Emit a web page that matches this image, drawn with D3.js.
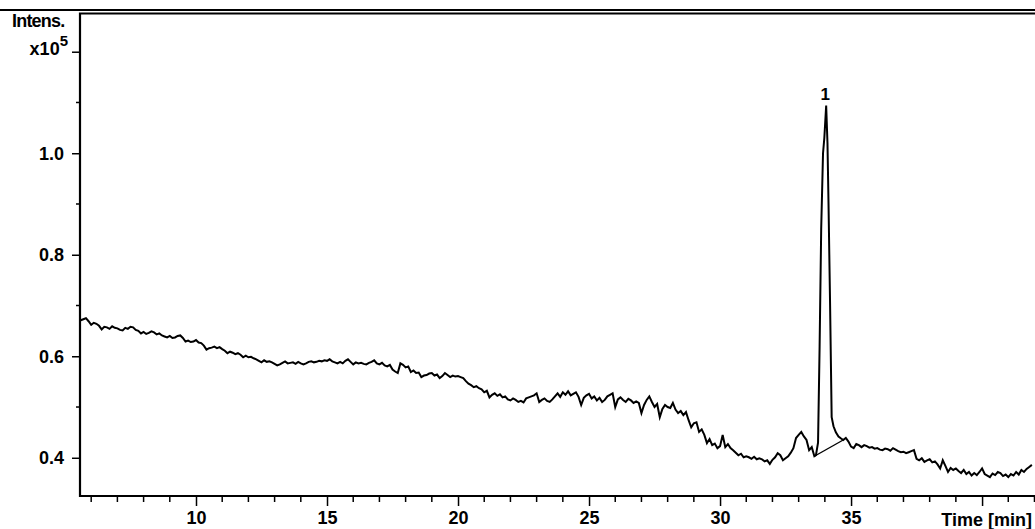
<!DOCTYPE html>
<html>
<head>
<meta charset="utf-8">
<script src="https://cdn.jsdelivr.net/npm/d3@7"></script>
<style>
  html, body { margin: 0; padding: 0; background: #fff; }
  svg { display: block; font-family: "Liberation Sans", Arial, sans-serif; font-weight: bold; }
</style>
</head>
<body>
<svg id="chart" width="1035" height="529"></svg>
<script>
'use strict';

// trace before the peak, one value every 0.1 min starting at 5.6 min (x10^5)
var traceAStart = 5.6;
var traceA = [
    0.671, 0.673, 0.675, 0.669,
    0.662, 0.666, 0.664, 0.660, 0.653, 0.658, 0.657, 0.654, 0.659, 0.656,
    0.655, 0.652, 0.651, 0.656, 0.654, 0.658, 0.657, 0.652, 0.650, 0.645,
    0.648, 0.644, 0.646, 0.649, 0.647, 0.643, 0.645, 0.641, 0.639, 0.637,
    0.640, 0.636, 0.637, 0.640, 0.641, 0.636, 0.629, 0.631, 0.628, 0.629,
    0.632, 0.627, 0.626, 0.621, 0.613, 0.616, 0.617, 0.619, 0.616, 0.618,
    0.614, 0.611, 0.606, 0.609, 0.607, 0.604, 0.606, 0.603, 0.598, 0.601,
    0.598, 0.599, 0.596, 0.594, 0.591, 0.588, 0.592, 0.589, 0.590, 0.588,
    0.585, 0.582, 0.584, 0.587, 0.590, 0.586, 0.587, 0.588, 0.585, 0.589,
    0.586, 0.584, 0.586, 0.589, 0.590, 0.588, 0.589, 0.591, 0.590, 0.592,
    0.591, 0.594, 0.590, 0.588, 0.586, 0.589, 0.586, 0.591, 0.594, 0.589,
    0.584, 0.588, 0.586, 0.587, 0.585, 0.584, 0.587, 0.589, 0.592, 0.586,
    0.584, 0.587, 0.582, 0.580, 0.583, 0.574, 0.570, 0.567, 0.586, 0.583,
    0.578, 0.580, 0.569, 0.572, 0.567, 0.568, 0.559, 0.562, 0.563, 0.566,
    0.567, 0.562, 0.564, 0.557, 0.561, 0.567, 0.563, 0.559, 0.562, 0.560,
    0.561, 0.559, 0.557, 0.551, 0.546, 0.543, 0.539, 0.541, 0.537, 0.535,
    0.529, 0.532, 0.519, 0.524, 0.527, 0.522, 0.525, 0.519, 0.521, 0.515,
    0.513, 0.517, 0.514, 0.510, 0.512, 0.509, 0.517, 0.519, 0.521, 0.523,
    0.527, 0.510, 0.514, 0.517, 0.512, 0.510, 0.515, 0.521, 0.527, 0.520,
    0.529, 0.524, 0.531, 0.523, 0.526, 0.529, 0.520, 0.504, 0.518, 0.523,
    0.526, 0.517, 0.521, 0.513, 0.518, 0.510, 0.514, 0.521, 0.524, 0.527,
    0.500, 0.515, 0.519, 0.514, 0.510, 0.516, 0.513, 0.508, 0.511, 0.508,
    0.488, 0.504, 0.514, 0.521, 0.510, 0.500, 0.506, 0.480, 0.496, 0.504,
    0.500, 0.498, 0.508, 0.495, 0.488, 0.492, 0.484, 0.490, 0.474, 0.460,
    0.468, 0.470, 0.451, 0.456, 0.445, 0.429, 0.437, 0.425, 0.428, 0.419,
    0.423, 0.445, 0.421, 0.427, 0.419, 0.415, 0.410, 0.405, 0.408, 0.401,
    0.403, 0.401, 0.398, 0.402, 0.397, 0.399, 0.397, 0.393, 0.395, 0.388,
    0.396, 0.401, 0.409, 0.405, 0.395, 0.399, 0.403, 0.410, 0.419, 0.439,
    0.445, 0.451, 0.442, 0.435, 0.415, 0.421, 0.403
];

// peak 1 sampled more finely: [time (min), intensity]
var peakPoints = [
    [33.66, 0.405], [33.74, 0.430], [33.80, 0.620], [33.86, 0.850],
    [33.93, 1.000], [33.98, 1.030], [34.05, 1.094], [34.10, 1.020],
    [34.14, 0.900], [34.20, 0.700], [34.26, 0.480], [34.33, 0.462],
    [34.42, 0.450], [34.52, 0.442], [34.62, 0.438]
];

// trace after the peak, every 0.1 min starting at 34.7 min
var traceBStart = 34.7;
var traceB = [
    0.435, 0.439, 0.432,
    0.422, 0.419, 0.427, 0.425, 0.421, 0.425, 0.423, 0.420, 0.421, 0.418,
    0.419, 0.416, 0.415, 0.418, 0.417, 0.414, 0.419, 0.416, 0.413, 0.411,
    0.412, 0.409, 0.411, 0.413, 0.415, 0.398, 0.395, 0.399, 0.392, 0.395,
    0.397, 0.391, 0.393, 0.387, 0.379, 0.395, 0.384, 0.372, 0.380, 0.376,
    0.379, 0.374, 0.370, 0.376, 0.368, 0.372, 0.365, 0.370, 0.366, 0.372,
    0.379, 0.368, 0.365, 0.362, 0.369, 0.366, 0.372, 0.370, 0.364, 0.367,
    0.362, 0.368, 0.365, 0.372, 0.367, 0.376, 0.372, 0.378, 0.382, 0.386
];

// integration baseline under peak 1
var peakBaseline = [[33.60, 0.403], [34.70, 0.435]];
var peakLabel = { time: 34.05, value: 1.094, text: '1' };

var xMajor = [10, 15, 20, 25, 30, 35, 40];
var xLabels = ['10', '15', '20', '25', '30', '35', ''];
var yMajor = [0.4, 0.6, 0.8, 1.0, 1.2];
var yLabels = ['0.4', '0.6', '0.8', '1.0', ''];

var svg = d3.select('#chart');
var plotLeft = 80, plotRight = 1035, plotTop = 13.5, plotBottom = 496;

var x = d3.scaleLinear().domain([5.573, 42.02]).range([plotLeft, plotRight]);
var y = d3.scaleLinear().domain([0.3247, 1.2753]).range([plotBottom, plotTop]);

var series = traceA.map(function (v, i) { return [traceAStart + i * 0.1, v]; })
    .concat(peakPoints)
    .concat(traceB.map(function (v, i) { return [traceBStart + i * 0.1, v]; }));

// header rule across the page
svg.append('line')
    .attr('x1', 0).attr('x2', 1035).attr('y1', 10).attr('y2', 10)
    .attr('stroke', '#000').attr('stroke-width', 2);

svg.append('defs').append('clipPath').attr('id', 'plotclip')
    .append('rect').attr('x', plotLeft).attr('y', plotTop)
    .attr('width', plotRight - plotLeft).attr('height', plotBottom - plotTop);

var plot = svg.append('g').attr('clip-path', 'url(#plotclip)');

plot.append('path')
    .datum(series)
    .attr('fill', 'none')
    .attr('stroke', '#000')
    .attr('stroke-width', 2)
    .attr('stroke-linejoin', 'miter')
    .attr('d', d3.line().x(function (d) { return x(d[0]); }).y(function (d) { return y(d[1]); }));

plot.append('path')
    .datum(peakBaseline)
    .attr('fill', 'none')
    .attr('stroke', '#000')
    .attr('stroke-width', 1.4)
    .attr('d', d3.line().x(function (d) { return x(d[0]); }).y(function (d) { return y(d[1]); }));

svg.append('text')
    .attr('x', x(peakLabel.time) - 1).attr('y', y(peakLabel.value) - 6)
    .attr('text-anchor', 'middle')
    .style('font-size', '17px')
    .text(peakLabel.text);

// x axis: minor ticks every minute, majors every 5
var xAxis = d3.axisBottom(x).tickValues(xMajor).tickSize(10).tickPadding(5)
    .tickFormat(function (d, i) { return xLabels[i]; });
var gx = svg.append('g').attr('transform', 'translate(0,' + plotBottom + ')').call(xAxis);
gx.selectAll('.tick text').style('font-size', '18px').attr('fill', '#000').attr('font-family', null);
gx.selectAll('.tick line').attr('stroke-width', 1.5);
gx.select('.domain').remove();
gx.selectAll('.minor').data(d3.range(6, 43).filter(function (t) { return t % 5 !== 0; }))
    .enter().append('line').attr('class', 'minor')
    .attr('x1', function (d) { return x(d); }).attr('x2', function (d) { return x(d); })
    .attr('y1', 0).attr('y2', 6).attr('stroke', '#000').attr('stroke-width', 1.5);

// y axis
var yAxis = d3.axisLeft(y).tickValues(yMajor).tickSize(8).tickPadding(8)
    .tickFormat(function (d, i) { return yLabels[i]; });
var gy = svg.append('g').attr('transform', 'translate(' + plotLeft + ',0)').call(yAxis);
gy.selectAll('.tick text').style('font-size', '18px').attr('fill', '#000').attr('font-family', null);
gy.selectAll('.tick line').attr('stroke-width', 1.5);
gy.select('.domain').remove();
gy.selectAll('.minor').data([0.5, 0.7, 0.9, 1.1])
    .enter().append('line').attr('class', 'minor')
    .attr('y1', function (d) { return y(d); }).attr('y2', function (d) { return y(d); })
    .attr('x1', 0).attr('x2', -4).attr('stroke', '#000').attr('stroke-width', 1.5);

// frame: left, bottom and top edges
svg.append('path')
    .attr('d', 'M' + plotRight + ',' + plotTop + 'H' + plotLeft + 'V' + plotBottom + 'H' + plotRight)
    .attr('fill', 'none').attr('stroke', '#000').attr('stroke-width', 2.2);

svg.append('text').attr('x', 12).attr('y', 27)
    .style('font-size', '18px').style('letter-spacing', '-0.8px')
    .text('Intens.');
var ex = svg.append('text').attr('x', 68).attr('y', 55).attr('text-anchor', 'end')
    .style('font-size', '18px');
ex.append('tspan').text('x10');
ex.append('tspan').attr('dy', -9).style('font-size', '15px').text('5');

svg.append('text').attr('x', 1032).attr('y', 526).attr('text-anchor', 'end')
    .style('font-size', '18px')
    .text('Time [min]');
</script>
</body>
</html>
